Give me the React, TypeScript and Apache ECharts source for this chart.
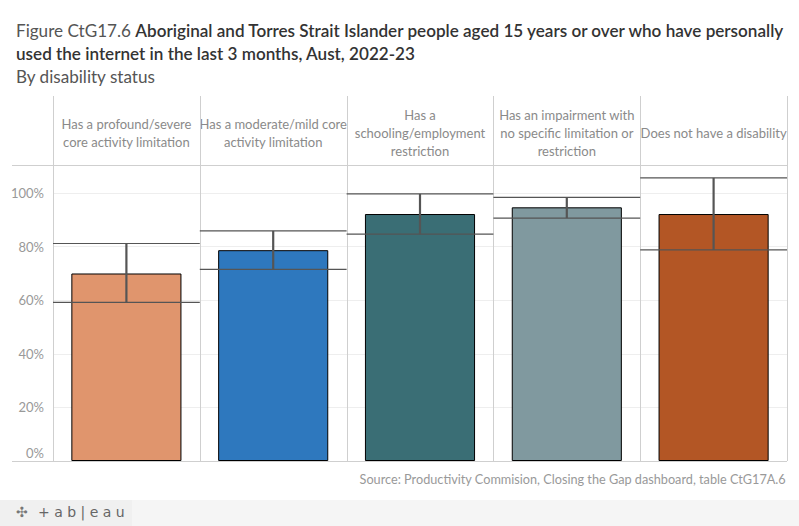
import React, { useEffect, useRef } from "react";
import * as echarts from "echarts";

const categories = [
  "Has a profound/severe\ncore activity limitation",
  "Has a moderate/mild core\nactivity limitation",
  "Has a\nschooling/employment\nrestriction",
  "Has an impairment with\nno specific limitation or\nrestriction",
  "Does not have a disability",
];
const values = [70.0, 78.7, 92.2, 94.7, 92.2];
const lowerCI = [59.2, 71.5, 84.7, 90.7, 78.8];
const upperCI = [81.2, 85.9, 99.7, 98.4, 105.7];
const barColors = ["#E0956D", "#2E78BE", "#3A6E75", "#80999F", "#B35625"];
const yTicks = [0, 20, 40, 60, 80, 100];

const W = 799;
const H = 526;
const GRID_LEFT = 53;
const GRID_RIGHT = 12;
const GRID_TOP = 165;
const GRID_BOTTOM = 65;
const FONT = "Lato, 'Noto Sans', sans-serif";

export default function App() {
  const ref = useRef<HTMLDivElement>(null);
  useEffect(() => {
    if (!ref.current) return;
    const chart = echarts.init(ref.current, undefined, { renderer: "svg" });
    const plotW = W - GRID_LEFT - GRID_RIGHT;
    const bandW = plotW / categories.length;
    const baseY = H - GRID_BOTTOM;
    const vLines: any[] = [];
    for (let i = 0; i <= categories.length; i++) {
      const x = Math.round(GRID_LEFT + i * bandW) + 0.5;
      vLines.push({
        type: "line",
        shape: { x1: x, y1: 96, x2: x, y2: baseY },
        style: { stroke: "#cfcfcf", lineWidth: 1 },
        z: 1,
      });
    }
    const titleBase = { fontSize: 17.1, fontFamily: FONT };
    chart.setOption({
      animation: false,
      backgroundColor: "#ffffff",
      textStyle: { fontFamily: FONT },
      graphic: [
        ...vLines,
        {
          type: "text",
          left: 16,
          top: 22,
          style: {
            text: "{a|Figure CtG17.6 }{b|Aboriginal and Torres Strait Islander people aged 15 years or over who have personally}",
            rich: {
              a: { ...titleBase, fill: "#555555", fontWeight: "normal" },
              b: { ...titleBase, fill: "#333333", fontWeight: 600 },
            },
          },
        },
        {
          type: "text",
          left: 16,
          top: 45,
          style: { text: "used the internet in the last 3 months, Aust, 2022-23", ...titleBase, fill: "#333333", fontWeight: 600 },
        },
        {
          type: "text",
          left: 16,
          top: 68,
          style: { text: "By disability status", ...titleBase, fill: "#555555", fontWeight: "normal" },
        },
        {
          type: "line",
          shape: { x1: 12, y1: GRID_TOP + 0.5, x2: W - GRID_RIGHT, y2: GRID_TOP + 0.5 },
          style: { stroke: "#cfcfcf", lineWidth: 1 },
          z: 1,
        },
        {
          type: "line",
          shape: { x1: 12, y1: baseY + 0.5, x2: W - GRID_RIGHT, y2: baseY + 0.5 },
          style: { stroke: "#cfcfcf", lineWidth: 1 },
          z: 10,
        },
        {
          type: "text",
          right: 13,
          top: 472,
          style: {
            text: "Source: Productivity Commision, Closing the Gap dashboard, table CtG17A.6",
            fill: "#999999",
            fontSize: 12.7,
            fontFamily: FONT,
          },
        },
        {
          type: "rect",
          shape: { x: 0, y: 500, width: W, height: 26 },
          style: { fill: "#f5f5f5" },
        },
        {
          type: "rect",
          shape: { x: 0, y: 500, width: 132, height: 26 },
          style: { fill: "#f0f0f0" },
        },
        {
          type: "text",
          left: 16,
          top: 505,
          style: { text: "✣", fill: "#777777", fontSize: 14, fontFamily: "DejaVu Sans" },
        },
        {
          type: "text",
          left: 38,
          top: 505,
          style: { text: "+ a b | e a u", fill: "#666666", fontSize: 14, fontFamily: "DejaVu Sans" },
        },
      ],
      grid: { left: GRID_LEFT, right: GRID_RIGHT, top: GRID_TOP, bottom: GRID_BOTTOM },
      xAxis: {
        type: "category",
        position: "top",
        data: categories,
        axisLine: { show: false },
        axisTick: { show: false },
        splitLine: { show: false },
        axisLabel: {
          interval: 0,
          margin: 32,
          verticalAlign: "middle",
          align: "center",
          color: "#8a8a8a",
          fontSize: 13,
          lineHeight: 18,
          fontFamily: FONT,
        },
      },
      yAxis: {
        type: "value",
        min: 0,
        max: 110.5,
        interval: 20,
        axisLine: { show: false },
        axisTick: { show: false },
        splitLine: { show: true, lineStyle: { color: "#eeeeee", width: 1 } },
        axisLabel: {
          color: "#999999",
          fontSize: 13,
          margin: 9,
          fontFamily: FONT,
          showMaxLabel: false,
          formatter: (v: number) => {
            if (!yTicks.includes(v)) return "";
            if (v === 0) return "{z|0%}";
            return v + "%";
          },
          rich: { z: { padding: [0, 0, 16, 0], color: "#999999", fontSize: 13, fontFamily: FONT } },
        },
      },
      series: [
        {
          type: "bar",
          barWidth: "75%",
          data: values.map((v, i) => ({
            value: v,
            itemStyle: { color: barColors[i], borderColor: "#000000", borderWidth: 1 },
          })),
          z: 2,
        },
        {
          type: "custom",
          z: 5,
          data: values.map((_, i) => [i, lowerCI[i], upperCI[i]]),
          renderItem: (params: any, api: any) => {
            const idx = api.value(0);
            const lo = api.coord([idx, api.value(1)]);
            const hi = api.coord([idx, api.value(2)]);
            const bw = api.size([1, 0])[0];
            const x0 = lo[0] - bw / 2;
            const x1 = lo[0] + bw / 2;
            const s = { stroke: "#555555", lineWidth: 1.2 };
            return {
              type: "group",
              children: [
                { type: "line", shape: { x1: x0, y1: hi[1], x2: x1, y2: hi[1] }, style: s },
                { type: "line", shape: { x1: x0, y1: lo[1], x2: x1, y2: lo[1] }, style: s },
                { type: "line", shape: { x1: lo[0], y1: lo[1], x2: lo[0], y2: hi[1] }, style: { stroke: "#555555", lineWidth: 2.2 } },
              ],
            };
          },
        },
      ],
    });
    return () => chart.dispose();
  }, []);
  return (
    <div
      ref={ref}
      style={{ position: "fixed", left: 0, top: 0, width: W + "px", height: H + "px" }}
    />
  );
}
